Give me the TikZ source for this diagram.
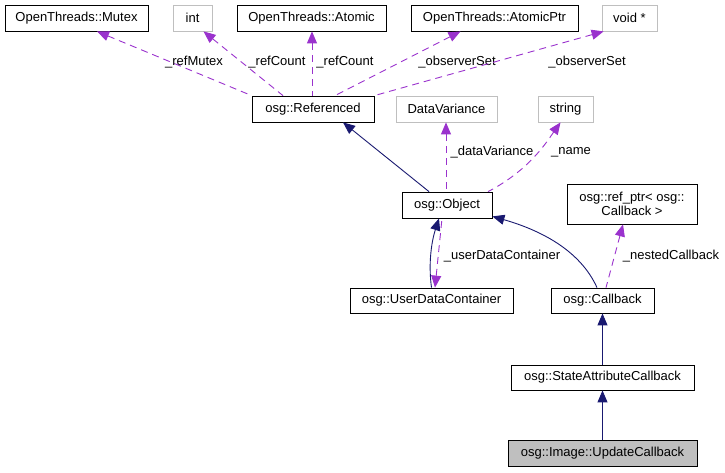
\documentclass[tikz,border=0pt]{standalone}
\usepackage{fontspec}
\setmainfont{Liberation Sans}
\usetikzlibrary{arrows.meta, calc}
\definecolor{edgepurple}{HTML}{9A32CD}
\definecolor{edgenavy}{HTML}{191970}
\definecolor{boxgray}{HTML}{BFBFBF}
\tikzset{
	cls/.style={draw=black, line width=0.8pt, minimum height=26pt, inner sep=0pt, font=\fontsize{13}{15}\selectfont},
	ext/.style={cls, draw=boxgray},
	inherit/.style={draw=edgenavy, line width=0.9pt, {Triangle[length=12pt,width=10pt]}-},
	member/.style={draw=edgepurple, line width=0.9pt, dash pattern=on 7pt off 5pt, {Triangle[length=12pt,width=10pt]}-},
	lbl/.style={font=\fontsize{13}{15}\selectfont, inner sep=0pt}
}
\begin{document}
\begin{tikzpicture}[x=1pt, y=-1pt]
				\useasboundingbox (0,0) rectangle (725,472);
				
				\node[cls, minimum width=143pt] (mutex) at (76.5,18) {OpenThreads::Mutex};
				\node[ext, minimum width=39pt] (int) at (192.5,18) {int};
				\node[cls, minimum width=149pt] (atomic) at (311.5,18) {OpenThreads::Atomic};
				\node[cls, minimum width=167pt] (atomicptr) at (494.5,18) {OpenThreads::AtomicPtr};
				\node[ext, minimum width=55pt] (voidptr) at (629.5,18) {void *};
				\node[cls, minimum width=122pt] (refd) at (313,109) {osg::Referenced};
				\node[ext, minimum width=101pt] (datavar) at (446.5,109) {DataVariance};
				\node[ext, minimum width=55pt] (string) at (565.5,109) {string};
				\node[cls, minimum width=90pt] (object) at (447,205) {osg::Object};
				\node[cls, minimum width=130pt, minimum height=40pt, align=center, font=\fontsize{13}{14}\selectfont] (refptr) at (632,204) {osg::ref\_ptr< osg::\\Callback >};
				\node[cls, minimum width=163pt, minimum height=25pt] (udc) at (431.5,300.5) {osg::UserDataContainer};
				\node[cls, minimum width=103pt, minimum height=25pt] (callback) at (602.5,300.5) {osg::Callback};
				\node[cls, minimum width=183pt, minimum height=25pt] (sac) at (602.5,377.5) {osg::StateAttributeCallback};
				\node[cls, fill=boxgray, minimum width=189pt] (update) at (602.5,453) {osg::Image::UpdateCallback};
				
				\draw[member] ($(mutex.south)+(20.5,0)$) -- (refd.north west) node[lbl] at (194,62) {\_refMutex};
				\draw[member] ($(int.south)+(11,0)$) -- ($(refd.north)+(-30,0)$) node[lbl] at (277,62) {\_refCount};
				\draw[member] ($(atomic.south)+(0.5,0)$) -- ($(refd.north)+(-1,0)$) node[lbl] at (345,62) {\_refCount};
				\draw[member] ($(atomicptr.south)+(-34,0)$) -- ($(refd.north)+(22,0)$) node[lbl] at (457,62) {\_observerSet};
				\draw[member] ($(voidptr.south west)+(2,0)$) -- (refd.north east) node[lbl] at (587,62) {\_observerSet};
				
				\draw[inherit] ($(refd.south)+(30,0)$) -- ($(object.north)+(-18,0)$);
				\draw[member] ($(datavar.south)+(-0.5,0)$) -- ($(object.north)+(-1,0)$) node[lbl] at (492,152) {\_dataVariance};
				\draw[member] ($(string.south)+(-5,0)$) .. controls (548,140) and (530,170) .. ($(object.north)+(41,0)$) node[lbl] at (571,152) {\_name};
				
				\draw[inherit] ($(object.south)+(-8,0)$) .. controls (432,240) and (428,262) .. (udc.north);
				\draw[member] ($(udc.north)+(3.5,0)$) -- ($(object.south)+(-5,0)$) node[lbl] at (502,256) {\_userDataContainer};
				\draw[inherit] ($(object.south east)+(0,-2)$) .. controls (540,230) and (580,250) .. ($(callback.north)+(-5.5,0)$);
				\draw[member] ($(refptr.south)+(-9,0)$) -- ($(callback.north)+(3.5,0)$) node[lbl] at (671,256) {\_nestedCallback};
				
				\draw[inherit] (callback.south) -- (sac.north);
				\draw[inherit] (sac.south) -- (update.north);
			\end{tikzpicture}
\end{document}
